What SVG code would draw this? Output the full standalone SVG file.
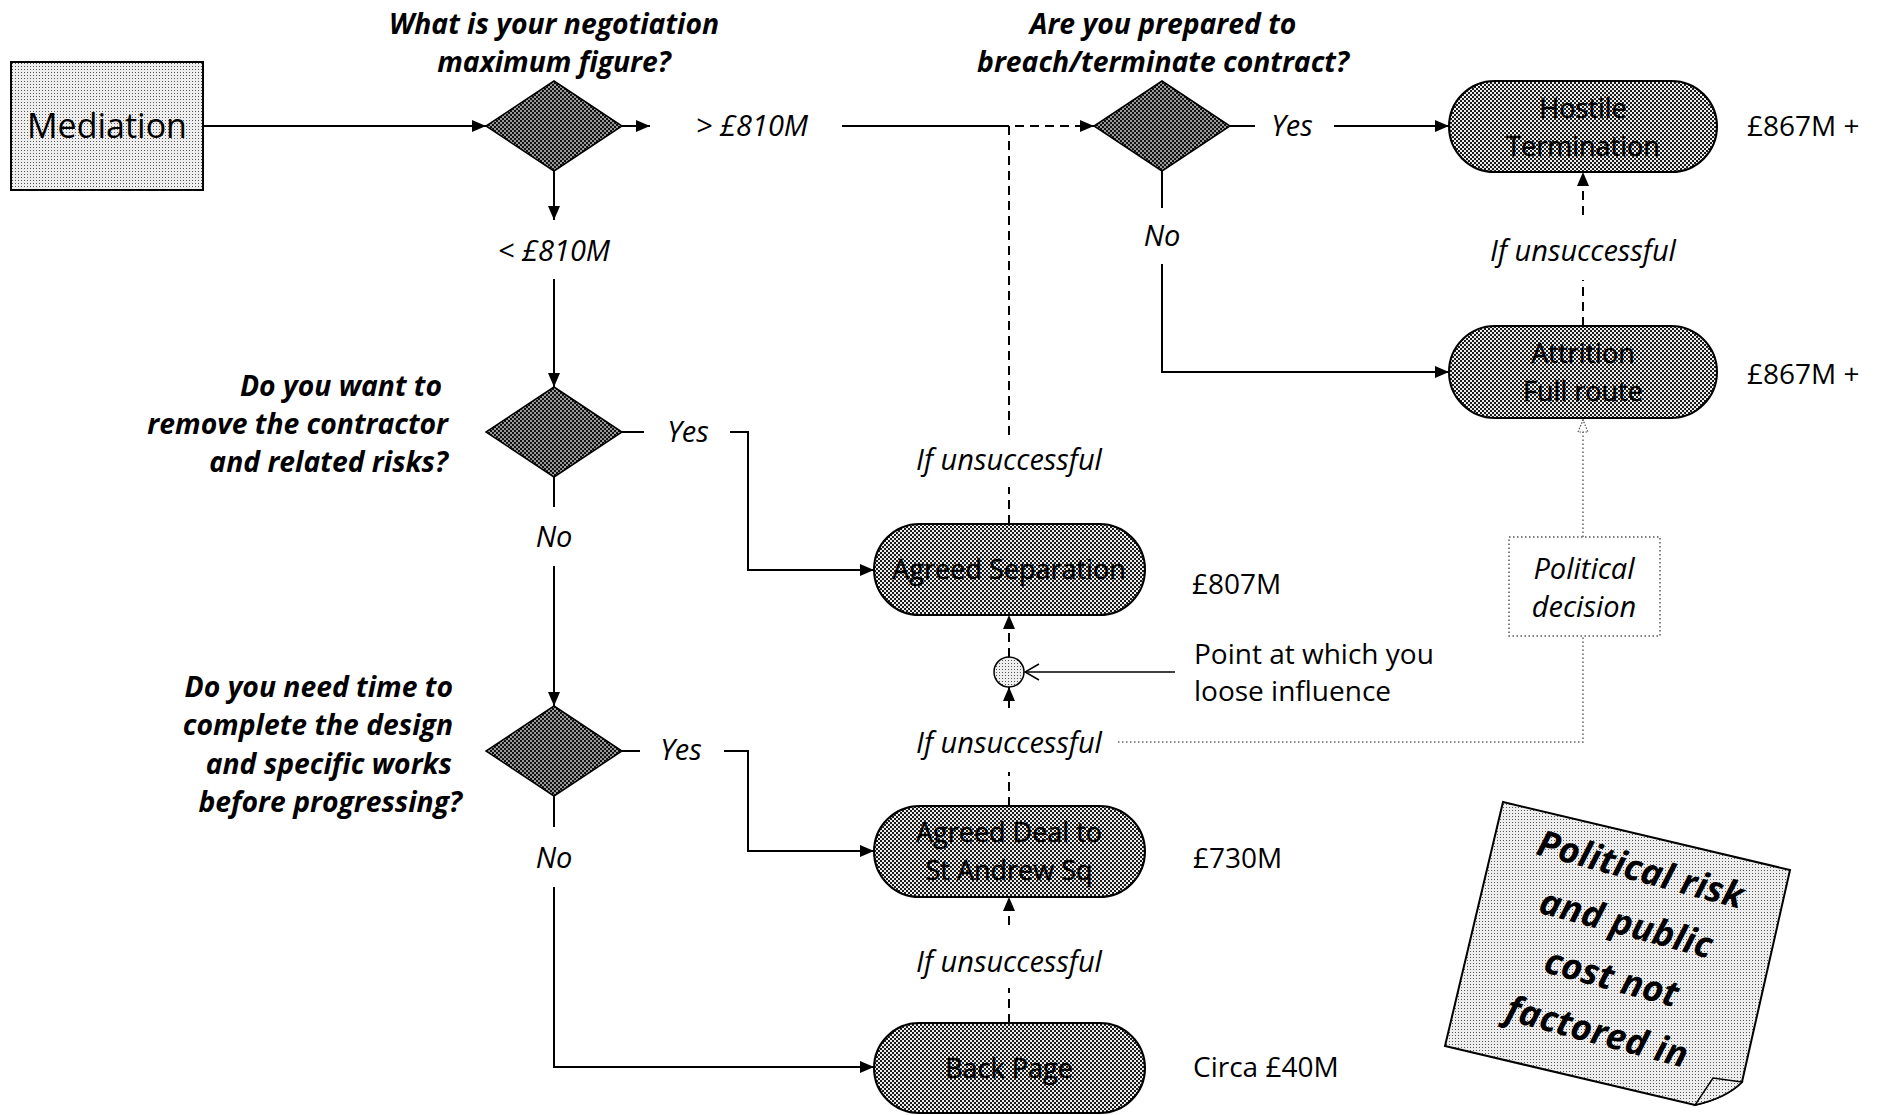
<svg xmlns="http://www.w3.org/2000/svg" width="1885" height="1115" viewBox="0 0 1885 1115">
  <defs>
    <!-- fills -->
    <pattern id="checkDark" width="4" height="4" patternUnits="userSpaceOnUse">
      <rect width="4" height="4" fill="#9a9a9a"/>
      <rect width="2" height="2" fill="#111"/>
      <rect x="2" y="2" width="2" height="2" fill="#111"/>
    </pattern>
    <pattern id="checkMid" width="4" height="4" patternUnits="userSpaceOnUse">
      <rect width="4" height="4" fill="#eeeeee"/>
      <rect width="2" height="2" fill="#1a1a1a"/>
      <rect x="2" y="2" width="2" height="2" fill="#1a1a1a"/>
    </pattern>
    <pattern id="dots" width="3" height="3" patternUnits="userSpaceOnUse">
      <rect width="3" height="3" fill="#eeeeee"/>
      <rect width="1" height="1" fill="#555"/>
    </pattern>
    <!-- arrowheads -->
    <marker id="arrow" viewBox="0 0 14 12" refX="14" refY="6" markerWidth="14" markerHeight="12" markerUnits="userSpaceOnUse" orient="auto">
      <path d="M0,0 L14,6 L0,12 Z" fill="#000"/>
    </marker>
    <marker id="chevron" viewBox="0 0 16 18" refX="15" refY="9" markerWidth="16" markerHeight="18" markerUnits="userSpaceOnUse" orient="auto">
      <path d="M1,1 L15,9 L1,17" fill="none" stroke="#000" stroke-width="1.5"/>
    </marker>
    <marker id="dotArrow" viewBox="0 0 14 12" refX="14" refY="6" markerWidth="14" markerHeight="12" markerUnits="userSpaceOnUse" orient="auto">
      <path d="M1,1 L13,6 L1,11 Z" fill="#fff" stroke="#555" stroke-width="1.2" stroke-dasharray="1.5 1.5"/>
    </marker>
  </defs>
  <style>
    text { font-family: "Open Sans", "Noto Sans", "Liberation Sans", sans-serif; fill: #000; }
    .node { font-size: 27px; text-anchor: middle; stroke: #000; stroke-width: 0.4; }
    .cost { font-size: 28px; }
    .lbl { font-size: 29px; font-style: italic; text-anchor: middle; }
    .q { font-size: 28.3px; font-style: italic; font-weight: bold; }
    .qc { text-anchor: middle; }
    .qr { text-anchor: end; }
    .note { font-size: 36px; font-style: italic; font-weight: bold; text-anchor: middle; }
    .line { fill: none; stroke: #000; stroke-width: 2; }
    .dash { fill: none; stroke: #000; stroke-width: 2; stroke-dasharray: 9 6; }
    .dot { fill: none; stroke: #666; stroke-width: 1.5; stroke-dasharray: 1.5 2.5; }
    .diamond { fill: url(#checkDark); stroke: #000; stroke-width: 1.5; }
    .term { fill: url(#checkMid); stroke: #000; stroke-width: 2; }
  </style>

  <rect width="1885" height="1115" fill="#fff"/>

  <!-- connectors -->
  <g id="connectors">
    <path class="line" d="M203,126 H486" marker-end="url(#arrow)"/>
    <path class="line" d="M622,126 H650" marker-end="url(#arrow)"/>
    <path class="line" d="M842,126 H1009"/>
    <path class="dash" d="M1009,524 V487"/>
    <path class="dash" d="M1009,435 V126 H1094" marker-end="url(#arrow)"/>
    <path class="line" d="M1230,126 H1255"/>
    <path class="line" d="M1334,126 H1449" marker-end="url(#arrow)"/>
    <path class="line" d="M1162,171 V208"/>
    <path class="line" d="M1162,264 V372 H1449" marker-end="url(#arrow)"/>
    <path class="dash" d="M1583,326 V280"/>
    <path class="dash" d="M1583,215 V172" marker-end="url(#arrow)"/>
    <path class="line" d="M554,171 V220" marker-end="url(#arrow)"/>
    <path class="line" d="M554,279 V387" marker-end="url(#arrow)"/>
    <path class="line" d="M622,432 H644"/>
    <path class="line" d="M730,432 H748 V570 H874" marker-end="url(#arrow)"/>
    <path class="line" d="M554,477 V507"/>
    <path class="line" d="M554,566 V706" marker-end="url(#arrow)"/>
    <path class="line" d="M622,751 H640"/>
    <path class="line" d="M724,751 H748 V851 H874" marker-end="url(#arrow)"/>
    <path class="line" d="M554,796 V827"/>
    <path class="line" d="M554,887 V1067 H874" marker-end="url(#arrow)"/>
    <path class="dash" d="M1009,657 V615" marker-end="url(#arrow)"/>
    <path class="dash" d="M1009,708 V687" marker-end="url(#arrow)"/>
    <path class="dash" d="M1009,806 V772"/>
    <path class="dash" d="M1009,1023 V988"/>
    <path class="dash" d="M1009,925 V897" marker-end="url(#arrow)"/>
    <path d="M1175,672 H1025" fill="none" stroke="#000" stroke-width="1.5" marker-end="url(#chevron)"/>
    <path class="dot" d="M1118,742 H1583 V637"/>
    <path class="dot" d="M1583,537 V419" marker-end="url(#dotArrow)"/>
  </g>

  <!-- start -->
  <g id="mediation">
    <rect x="11" y="62" width="192" height="128" fill="url(#dots)" stroke="#000" stroke-width="2"/>
    <text x="107" y="138" style="font-size:34px; text-anchor:middle">Mediation</text>
  </g>

  <!-- decisions -->
  <g id="q-maximum">
    <path class="diamond" d="M554,81 L622,126 L554,171 L486,126 Z"/>
    <text class="q qc" x="554" y="34">What is your negotiation</text>
    <text class="q qc" x="554" y="72">maximum figure?</text>
  </g>
  <g id="q-breach">
    <path class="diamond" d="M1162,81 L1230,126 L1162,171 L1094,126 Z"/>
    <text class="q qc" x="1163" y="34">Are you prepared to</text>
    <text class="q qc" x="1163" y="72">breach/terminate contract?</text>
  </g>
  <g id="q-remove">
    <path class="diamond" d="M554,387 L622,432 L554,477 L486,432 Z"/>
    <text class="q qr" x="442" y="396">Do you want to</text>
    <text class="q qr" x="448" y="434">remove the contractor</text>
    <text class="q qr" x="448" y="472">and related risks?</text>
  </g>
  <g id="q-time">
    <path class="diamond" d="M554,706 L622,751 L554,796 L486,751 Z"/>
    <text class="q qr" x="453" y="697">Do you need time to</text>
    <text class="q qr" x="453" y="735">complete the design</text>
    <text class="q qr" x="452" y="774">and specific works</text>
    <text class="q qr" x="462" y="812">before progressing?</text>
  </g>

  <!-- outcomes -->
  <g id="hostile-termination">
    <rect class="term" x="1449" y="81" width="268" height="91" rx="45.5"/>
    <text class="node" x="1583" y="118">Hostile</text>
    <text class="node" x="1583" y="156">Termination</text>
    <text class="cost" x="1747" y="136">£867M +</text>
  </g>
  <g id="attrition">
    <rect class="term" x="1449" y="326" width="268" height="92" rx="46"/>
    <text class="node" x="1583" y="363">Attrition</text>
    <text class="node" x="1583" y="401">Full route</text>
    <text class="cost" x="1747" y="384">£867M +</text>
  </g>
  <g id="agreed-separation">
    <rect class="term" x="874" y="524" width="271" height="91" rx="45.5"/>
    <text class="node" x="1009" y="579">Agreed Separation</text>
    <text class="cost" x="1192" y="594">£807M</text>
  </g>
  <g id="agreed-deal">
    <rect class="term" x="874" y="806" width="271" height="91" rx="45.5"/>
    <text class="node" x="1009" y="842">Agreed Deal to</text>
    <text class="node" x="1009" y="880">St Andrew Sq</text>
    <text class="cost" x="1193" y="868">£730M</text>
  </g>
  <g id="back-page">
    <rect class="term" x="874" y="1023" width="271" height="90" rx="45"/>
    <text class="node" x="1009" y="1078">Back Page</text>
    <text class="cost" x="1193" y="1077">Circa £40M</text>
  </g>

  <!-- influence point -->
  <g id="influence-point">
    <circle cx="1009" cy="672" r="15" fill="url(#dots)" stroke="#000" stroke-width="1.5"/>
    <text class="cost" x="1194" y="664">Point at which you</text>
    <text class="cost" x="1194" y="701">loose influence</text>
  </g>

  <g id="political-decision">
    <rect x="1509" y="537" width="151" height="99" fill="#fff" stroke="#555" stroke-width="1.5" stroke-dasharray="1.5 2.5"/>
    <text class="lbl" x="1584" y="579">Political</text>
    <text class="lbl" x="1584" y="617">decision</text>
  </g>

  <!-- branch labels -->
  <g id="labels">
    <text class="lbl" x="752" y="136">&gt; £810M</text>
    <text class="lbl" x="1292" y="136">Yes</text>
    <text class="lbl" x="1162" y="246">No</text>
    <text class="lbl" x="554" y="261">&lt; £810M</text>
    <text class="lbl" x="1583" y="261">If unsuccessful</text>
    <text class="lbl" x="688" y="442">Yes</text>
    <text class="lbl" x="554" y="547">No</text>
    <text class="lbl" x="1009" y="470">If unsuccessful</text>
    <text class="lbl" x="1009" y="753">If unsuccessful</text>
    <text class="lbl" x="681" y="760">Yes</text>
    <text class="lbl" x="554" y="868">No</text>
    <text class="lbl" x="1009" y="972">If unsuccessful</text>
  </g>

  <!-- sticky note -->
  <g id="note">
    <path d="M1503,802 L1790,870 L1742,1082 Q1726,1098 1695,1105 L1445,1046 Z" fill="url(#dots)" stroke="#000" stroke-width="2"/>
    <path d="M1742,1082 L1713,1078 L1695,1105 Q1726,1098 1742,1082 Z" fill="url(#dots)" stroke="#000" stroke-width="1.5"/>
    <g transform="rotate(15 1619 950)">
      <text class="note" x="1619" y="879">Political risk</text>
      <text class="note" x="1619" y="935">and public</text>
      <text class="note" x="1619" y="991">cost not</text>
      <text class="note" x="1619" y="1047">factored in</text>
    </g>
  </g>
</svg>
